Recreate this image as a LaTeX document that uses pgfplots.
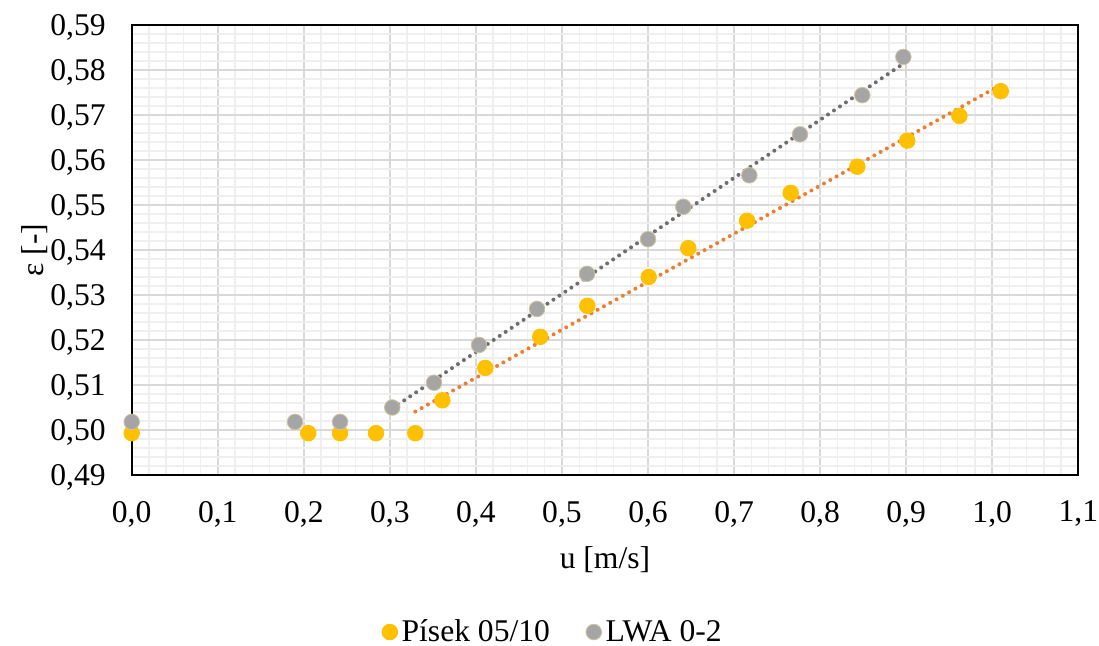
\documentclass[border=0pt]{standalone}
\usepackage{fontspec}
\setmainfont{Liberation Serif}
\usepackage{pgfplots}
\pgfplotsset{compat=1.18}

\definecolor{pisek}{HTML}{FFC000}
\definecolor{lwa}{HTML}{A5A5A5}
\definecolor{lwaedge}{HTML}{CFC2A0}
\definecolor{trendO}{HTML}{ED7D31}
\definecolor{trendG}{HTML}{6E6E6E}
\definecolor{gridmaj}{HTML}{D9D9D9}
\definecolor{gridmin}{HTML}{EFEFEF}

\begin{document}
\begin{tikzpicture}
\useasboundingbox (-65.85pt,-85.5pt) rectangle (483.65pt,237.5pt);
\begin{axis}[
  at={(0pt,0pt)}, anchor=south west,
  scale only axis,
  width=473.3pt, height=225pt,
  font=\fontsize{15.8}{19}\selectfont,
  xmin=0, xmax=1.1, ymin=0.49, ymax=0.59,
  xtick={0,0.1,0.2,0.3,0.4,0.5,0.6,0.7,0.8,0.9,1.0,1.1},
  ytick={0.49,0.50,0.51,0.52,0.53,0.54,0.55,0.56,0.57,0.58,0.59},
  minor x tick num=4, minor y tick num=4,
  major tick length=0pt, minor tick length=0pt,
  grid=both,
  major grid style={gridmaj, line width=0.75pt},
  minor grid style={gridmin, line width=0.65pt},
  axis line style={black, line width=1pt},
  xticklabel style={/pgf/number format/use comma, /pgf/number format/fixed,
    /pgf/number format/fixed zerofill, /pgf/number format/precision=1,
    /pgf/number format/assume math mode=true, yshift=-9.5pt},
  yticklabel style={/pgf/number format/use comma, /pgf/number format/fixed,
    /pgf/number format/fixed zerofill, /pgf/number format/precision=2,
    /pgf/number format/assume math mode=true, xshift=-9.5pt, yshift=-1.2pt},
  xlabel={u [m/s]},
  ylabel={ε [-]},
  xlabel style={at={(axis description cs:0.5,0)}, anchor=center, yshift=-42.5pt},
  ylabel style={at={(axis description cs:-0.102,0.5)}, anchor=center},
  legend columns=2,
  legend style={draw=none, fill=none, at={(axis description cs:0.446,-0.349)}, anchor=center,
    font=\fontsize{15.8}{19}\selectfont,
    /tikz/every even column/.append style={column sep=16pt}},
  legend image code/.code={\draw[#1] plot coordinates {(0pt,0pt)};},
  clip=false,
]
% measured points
\addplot[only marks, mark=*, mark size=3.9pt, color=pisek, fill=pisek] coordinates {
  (0.0000,0.4993) (0.2052,0.4993) (0.2421,0.4993) (0.2839,0.4993) (0.3296,0.4993)
  (0.3610,0.5066) (0.4109,0.5138) (0.4748,0.5207) (0.5295,0.5276) (0.6008,0.5340)
  (0.6468,0.5404) (0.7151,0.5465) (0.7658,0.5527) (0.8432,0.5585) (0.9013,0.5643)
  (0.9618,0.5698) (1.0099,0.5753)
};
\addlegendentry{Písek 05/10}
\addplot[only marks, mark=*, mark size=3.9pt, color=lwa, mark options={fill=lwa, draw=lwaedge, line width=0.4pt}] coordinates {
  (0.0000,0.5018) (0.1898,0.5018) (0.2421,0.5018) (0.3028,0.5050) (0.3513,0.5105)
  (0.4036,0.5189) (0.4710,0.5269) (0.5291,0.5347) (0.6000,0.5424) (0.6410,0.5496)
  (0.7177,0.5566) (0.7766,0.5657) (0.8490,0.5744) (0.8967,0.5829)
};
\addlegendentry{LWA 0-2}
% linear trend lines
\addplot[forget plot, trendO, line width=2pt, line cap=round, dash pattern=on 0pt off 3.6pt] coordinates {
  (0.3296,0.5041) (1.0099,0.5767)
};
\addplot[forget plot, trendG, line width=2pt, line cap=round, dash pattern=on 0pt off 3.6pt] coordinates {
  (0.3028,0.5048) (0.8967,0.5814)
};
\end{axis}
\end{tikzpicture}
\end{document}
